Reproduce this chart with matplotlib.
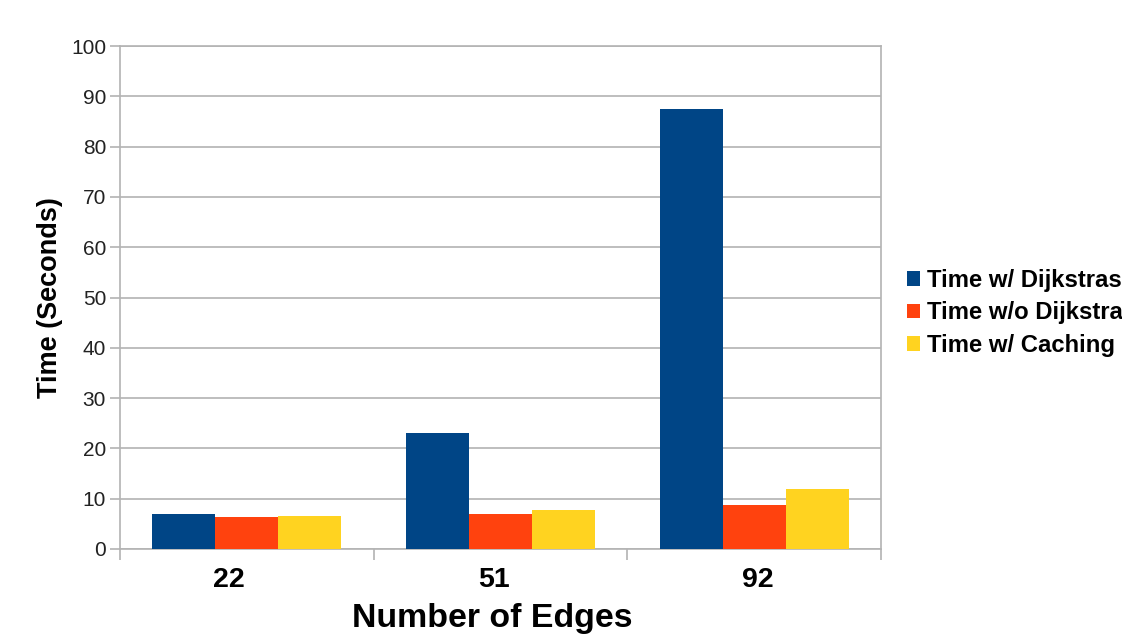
import matplotlib
matplotlib.use("Agg")
import matplotlib.pyplot as plt
import matplotlib.transforms as mtransforms
import numpy as np
from matplotlib.patches import Patch

categories = ["22", "51", "92"]
series_names = ["Time w/ Dijkstras", "Time w/o Dijkstras", "Time w/ Caching"]
with_dijkstras = [7.0, 23.0, 87.4]
without_dijkstras = [6.3, 7.0, 8.8]
with_caching = [6.5, 7.7, 12.0]
colors = ["#004586", "#ff420e", "#ffd320"]
y_ticks = list(range(0, 101, 10))

plt.rcParams['font.family'] = ['Liberation Sans', 'DejaVu Sans']

fig = plt.figure(figsize=(11.22, 6.34), dpi=100)
ax = fig.add_axes([120/1122, 1 - 549/634, (881-120)/1122, (549-46)/634])

x = np.arange(len(categories))
w = 0.248
series = [with_dijkstras, without_dijkstras, with_caching]
for i, (vals, c) in enumerate(zip(series, colors)):
    ax.bar(x + (i - 1) * w, vals, width=w, color=c, zorder=3, linewidth=0)

ax.set_xlim(-0.5, len(categories) - 0.5)
ax.set_ylim(0, 100)
ax.set_yticks(y_ticks)
ax.set_yticklabels([str(t) for t in y_ticks], fontsize=15, color="#222222")
ax.set_xticks(x)
ax.set_xticklabels(categories, fontsize=20.5, fontweight="bold")
ax.tick_params(axis="x", which="major", length=0, pad=13)
ax.set_xticks(np.arange(-0.5, len(categories), 1.0), minor=True)
ax.tick_params(axis="x", which="minor", length=8, color="#b3b3b3", width=1.2)
ax.tick_params(axis="y", length=7, color="#b3b3b3", width=1.2, pad=3)

# small horizontal offsets of category labels as in the reference
label_shifts = [-18, -7, 4]
for lab, dx in zip(ax.get_xticklabels(), label_shifts):
    lab.set_transform(lab.get_transform() +
                      mtransforms.ScaledTranslation(dx / 100, 0, fig.dpi_scale_trans))

ax.grid(axis="y", color="#b3b3b3", linewidth=1.2, zorder=0)
for s in ax.spines.values():
    s.set_color("#b3b3b3")
    s.set_linewidth(1.2)

ax.set_xlabel("Number of Edges", fontsize=24.4, fontweight="bold", labelpad=7)
ax.xaxis.label.set_x((492 - 120) / (881 - 120))
ax.set_ylabel("Time (Seconds)", fontsize=19.5, fontweight="bold", labelpad=6)

handles = [Patch(facecolor=c, edgecolor="none") for c in colors]
fig.legend(handles, series_names, loc="center left",
           bbox_to_anchor=(907/1122, 1 - 313/634), frameon=False,
           prop={"size": 17.2, "weight": "bold"},
           handlelength=0.55, handleheight=0.55, handletextpad=0.3,
           labelspacing=0.4, borderaxespad=0, borderpad=0)

fig.savefig("out.png", dpi=100)
